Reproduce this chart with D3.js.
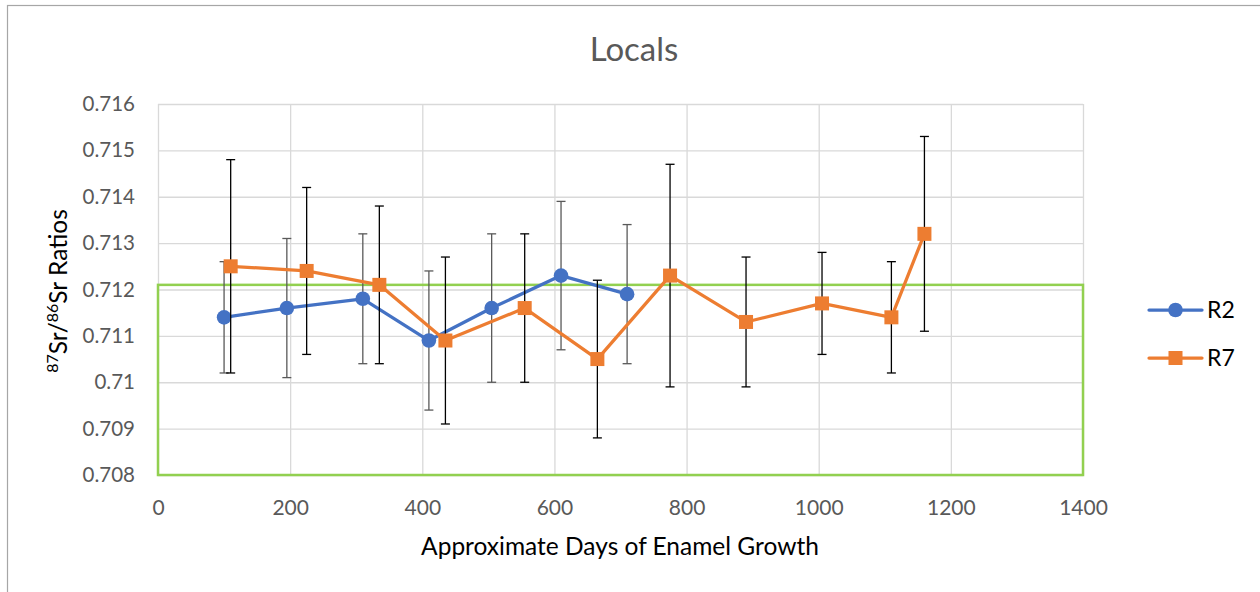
<!DOCTYPE html>
<html>
<head>
<meta charset="utf-8">
<script src="https://cdn.jsdelivr.net/npm/d3@7"></script>
<style>
  html, body { margin: 0; padding: 0; background: #fff; }
  svg { display: block; font-family: Lato, "Open Sans", sans-serif; }
</style>
</head>
<body>
<svg id="chart" width="1260" height="592"></svg>
<script>
// Sr isotope ratios along the enamel growth axis, two individuals
const r2Days  = [100, 195, 310, 410, 505, 610, 710];
const r2Ratio = [0.7114, 0.7116, 0.7118, 0.7109, 0.7116, 0.7123, 0.7119];
const r2Err   = [0.0012, 0.0015, 0.0014, 0.0015, 0.0016, 0.0016, 0.0015];

const r7Days  = [110, 225, 335, 435, 555, 665, 775, 890, 1005, 1110, 1160];
const r7Ratio = [0.7125, 0.7124, 0.7121, 0.7109, 0.7116, 0.7105, 0.7123, 0.7113, 0.7117, 0.7114, 0.7132];
const r7Err   = [0.0023, 0.0018, 0.0017, 0.0018, 0.0016, 0.0017, 0.0024, 0.0014, 0.0011, 0.0012, 0.0021];

// local bioavailable range (lower / upper ratio)
const localRange = [0.708, 0.7121];

const xTicks = [0, 200, 400, 600, 800, 1000, 1200, 1400];
const yTicks = [0.708, 0.709, 0.710, 0.711, 0.712, 0.713, 0.714, 0.715, 0.716];

const svg = d3.select("#chart");
const L = 158, R = 1083, T = 104, B = 475;

const x = d3.scaleLinear().domain([0, 1400]).range([L, R]);
const y = d3.scaleLinear().domain([0.708, 0.716]).range([B, T]);

// chart frame
svg.append("rect")
  .attr("x", 7.5).attr("y", 5.5)
  .attr("width", 1300).attr("height", 700)
  .attr("fill", "none").attr("stroke", "#a6a6a6").attr("stroke-width", 1.2);

// gridlines
const gx = svg.append("g").attr("transform", `translate(0,${B})`)
  .call(d3.axisBottom(x).tickValues(xTicks).tickSize(-(B - T)).tickFormat(""));
const gy = svg.append("g").attr("transform", `translate(${L},0)`)
  .call(d3.axisLeft(y).tickValues(yTicks).tickSize(-(R - L)).tickFormat(""));
[gx, gy].forEach(g => {
  g.select(".domain").remove();
  g.selectAll("line").attr("stroke", "#d9d9d9").attr("stroke-width", 1.3);
});

// tick labels
const fmtY = v => String(+v.toFixed(3));
const fmtX = v => String(v);
svg.append("g").attr("transform", `translate(0,${B + 33})`)
  .call(d3.axisBottom(x).tickValues(xTicks).tickSize(0).tickPadding(0).tickFormat(fmtX))
  .call(g => g.select(".domain").remove())
  .selectAll("text")
  .attr("font-family", "Lato").attr("font-size", 21).attr("fill", "#595959")
  .attr("dy", "0.35em").attr("y", 0);
svg.append("g").attr("transform", `translate(${L - 23},0)`)
  .call(d3.axisLeft(y).tickValues(yTicks).tickSize(0).tickPadding(0).tickFormat(fmtY))
  .call(g => g.select(".domain").remove())
  .selectAll("text")
  .attr("font-family", "Lato").attr("font-size", 20.5).attr("fill", "#595959");

// local range box
svg.append("rect")
  .attr("x", x(0)).attr("y", y(localRange[1]))
  .attr("width", x(1400) - x(0)).attr("height", y(localRange[0]) - y(localRange[1]))
  .attr("fill", "none").attr("stroke", "#92d050").attr("stroke-width", 2.5);

function drawSeries(days, vals, errs, color, errColor, marker) {
  const g = svg.append("g");
  const pts = days.map((d, i) => ({ d, v: vals[i], e: errs[i] }));
  const cap = 4.5;
  const eb = g.append("g").attr("stroke", errColor).attr("stroke-width", 1.3);
  pts.forEach(p => {
    eb.append("line").attr("x1", x(p.d)).attr("x2", x(p.d)).attr("y1", y(p.v + p.e)).attr("y2", y(p.v - p.e));
    eb.append("line").attr("x1", x(p.d) - cap).attr("x2", x(p.d) + cap).attr("y1", y(p.v + p.e)).attr("y2", y(p.v + p.e));
    eb.append("line").attr("x1", x(p.d) - cap).attr("x2", x(p.d) + cap).attr("y1", y(p.v - p.e)).attr("y2", y(p.v - p.e));
  });
  g.append("path")
    .attr("d", d3.line().x(p => x(p.d)).y(p => y(p.v))(pts))
    .attr("fill", "none").attr("stroke", color).attr("stroke-width", 3.25)
    .attr("stroke-linejoin", "round").attr("stroke-linecap", "round");
  pts.forEach(p => marker(g, x(p.d), y(p.v)));
}

const circle = color => (g, cx, cy) =>
  g.append("circle").attr("cx", cx).attr("cy", cy).attr("r", 7.3).attr("fill", color);
const square = color => (g, cx, cy) =>
  g.append("rect").attr("x", cx - 7).attr("y", cy - 7).attr("width", 14).attr("height", 14).attr("fill", color);

drawSeries(r2Days, r2Ratio, r2Err, "#4472c4", "#595959", circle("#4472c4"));
drawSeries(r7Days, r7Ratio, r7Err, "#ed7d31", "#000000", square("#ed7d31"));

// title
svg.append("text").attr("x", 634).attr("y", 61).attr("text-anchor", "middle")
  .attr("font-size", 33).attr("fill", "#595959").text("Locals");

// axis titles
svg.append("text").attr("x", 620).attr("y", 555).attr("text-anchor", "middle")
  .attr("font-size", 24.5).attr("fill", "#000").text("Approximate Days of Enamel Growth");

const yt = svg.append("text")
  .attr("transform", "translate(67,291) rotate(-90)")
  .attr("text-anchor", "middle").attr("font-size", 24.5).attr("fill", "#000");
yt.append("tspan").attr("font-size", 16).attr("dy", -9).text("87");
yt.append("tspan").attr("dy", 9).text("Sr/");
yt.append("tspan").attr("font-size", 16).attr("dy", -9).text("86");
yt.append("tspan").attr("dy", 9).text("Sr Ratios");

// legend
const legend = [
  { name: "R2", color: "#4472c4", marker: circle("#4472c4"), y: 310 },
  { name: "R7", color: "#ed7d31", marker: square("#ed7d31"), y: 358 }
];
legend.forEach(s => {
  const g = svg.append("g");
  g.append("line").attr("x1", 1149).attr("x2", 1202).attr("y1", s.y).attr("y2", s.y)
    .attr("stroke", s.color).attr("stroke-width", 3.25).attr("stroke-linecap", "round");
  s.marker(g, 1175.5, s.y);
  g.append("text").attr("x", 1207).attr("y", s.y).attr("dy", "0.36em")
    .attr("font-size", 23).attr("fill", "#000").text(s.name);
});
</script>
</body>
</html>
